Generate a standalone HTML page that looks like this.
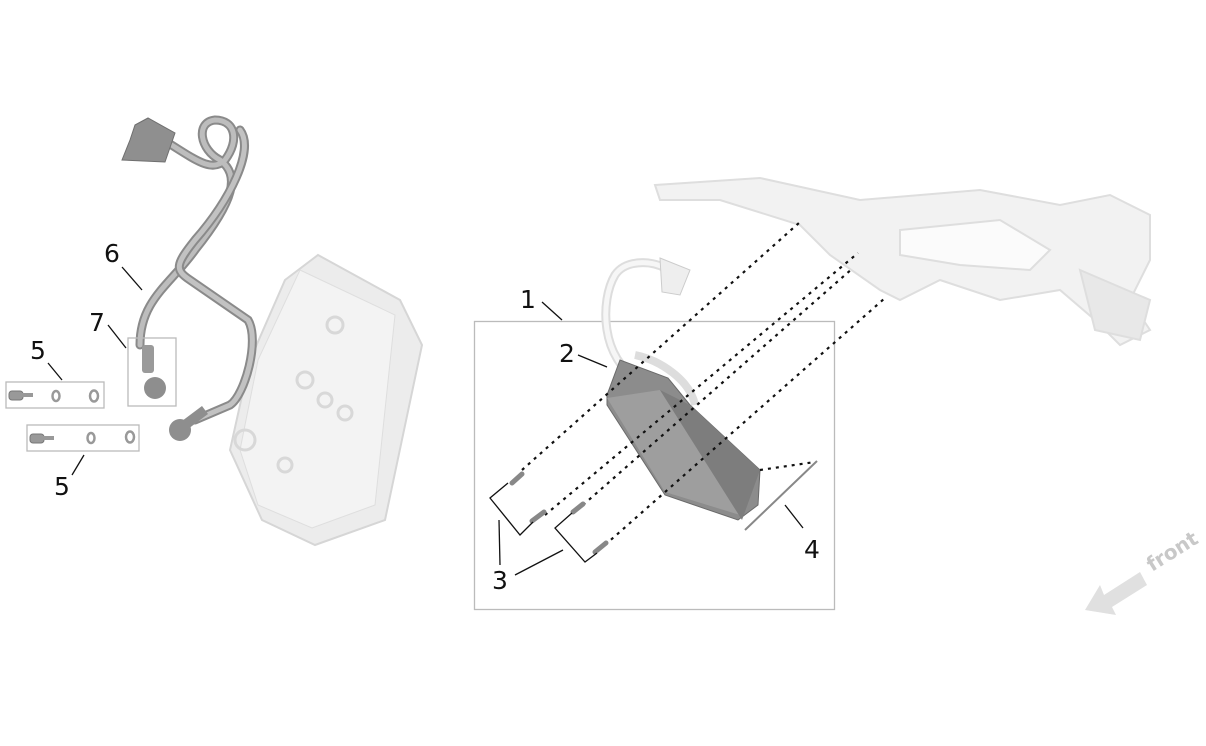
<!DOCTYPE html>
<html><head><meta charset="utf-8"><style>
html,body{margin:0;padding:0;background:#fff;width:1206px;height:746px;overflow:hidden}
svg text{font-family:"DejaVu Sans","Liberation Sans",sans-serif;font-size:25px;fill:#111}
</style></head><body>
<svg width="1206" height="746" viewBox="0 0 1206 746" xmlns="http://www.w3.org/2000/svg">
<!-- frame (faint) -->
<g fill="#f2f2f2" stroke="#dedede" stroke-width="2">
<path d="M655,185 L760,178 L860,200 L980,190 L1060,205 L1110,195 L1150,215 L1150,260 L1130,300 L1150,330 L1120,345 L1095,320 L1060,290 L1000,300 L940,280 L900,300 L880,290 L830,255 L800,225 L720,200 L660,200 Z"/>
<path d="M900,230 L1000,220 L1050,250 L1030,270 L960,265 L900,255 Z" fill="#fbfbfb"/>
<path d="M1080,270 L1150,300 L1140,340 L1095,330 Z" fill="#e8e8e8"/>
</g>
<!-- left controller -->
<path d="M318,255 L400,300 L422,345 L385,520 L315,545 L262,520 L230,450 L250,360 L285,280 Z" fill="#ececec" stroke="#d6d6d6" stroke-width="2"/>
<path d="M300,270 L395,315 L375,505 L312,528 L258,505 L240,450 L258,360 Z" fill="#f3f3f3" stroke="#dedede"/>
<g fill="none" stroke="#d8d8d8" stroke-width="3">
<circle cx="305" cy="380" r="8"/><circle cx="325" cy="400" r="7"/><circle cx="345" cy="413" r="7"/><circle cx="335" cy="325" r="8"/><circle cx="245" cy="440" r="10"/><circle cx="285" cy="465" r="7"/>
</g>
<!-- harness left -->
<g fill="none" stroke-linecap="round">
<path d="M155,135 C190,155 210,175 225,160 C240,140 235,120 215,120 C195,122 200,150 220,160 C240,175 235,200 195,250 C170,285 140,300 140,345" stroke="#8a8a8a" stroke-width="9"/>
<path d="M155,135 C190,155 210,175 225,160 C240,140 235,120 215,120 C195,122 200,150 220,160 C240,175 235,200 195,250 C170,285 140,300 140,345" stroke="#bdbdbd" stroke-width="5"/>
<path d="M240,130 C255,150 230,200 195,240 C175,265 175,270 190,280 L248,320 C260,340 245,395 230,405 L195,420" stroke="#8a8a8a" stroke-width="9"/>
<path d="M240,130 C255,150 230,200 195,240 C175,265 175,270 190,280 L248,320 C260,340 245,395 230,405 L195,420" stroke="#c2c2c2" stroke-width="5"/>
</g>
<path d="M135,125 L148,118 L175,133 L165,162 L122,160 L130,140 Z" fill="#8f8f8f" stroke="#6f6f6f"/>
<rect x="142" y="345" width="12" height="28" fill="#9a9a9a" rx="3"/>
<circle cx="155" cy="388" r="11" fill="#8e8e8e"/>
<circle cx="180" cy="430" r="11" fill="#8e8e8e"/>
<path d="M185,425 L205,410" stroke="#8e8e8e" stroke-width="10"/>
<!-- small boxes -->
<g fill="none" stroke="#bbb" stroke-width="1.3">
<rect x="6" y="382" width="98" height="26"/>
<rect x="27" y="425" width="112" height="26"/>
<rect x="128" y="338" width="48" height="68"/>
<rect x="474.5" y="321.5" width="360" height="288"/>
</g>
<g fill="#999" stroke="#777"><rect x="9" y="391" width="14" height="9" rx="3"/><rect x="30" y="434" width="14" height="9" rx="3"/></g>
<g fill="none" stroke="#999" stroke-width="2.5"><ellipse cx="56" cy="396" rx="3.5" ry="5"/><ellipse cx="94" cy="396" rx="4" ry="5.5"/><ellipse cx="91" cy="438" rx="3.5" ry="5"/><ellipse cx="130" cy="437" rx="4" ry="5.5"/></g>
<path d="M22,395 H33 M43,438 H54" stroke="#999" stroke-width="4"/>
<!-- right harness -->
<path d="M640,380 C600,360 600,300 615,275 C625,260 650,260 665,268" fill="none" stroke="#ddd" stroke-width="9"/>
<path d="M640,380 C600,360 600,300 615,275 C625,260 650,260 665,268" fill="none" stroke="#f6f6f6" stroke-width="5"/>
<path d="M660,258 L690,270 L680,295 L662,292 Z" fill="#eee" stroke="#ccc"/>
<path d="M635,355 C660,360 690,380 695,405" fill="none" stroke="#ddd" stroke-width="8"/>
<!-- right controller -->
<path d="M607,395 L620,360 L668,378 L690,405 L760,470 L758,505 L738,520 L665,495 L607,405 Z" fill="#8c8c8c" stroke="#6a6a6a"/>
<path d="M607,398 L660,390 L740,515 L665,492 Z" fill="#9e9e9e"/>
<path d="M660,390 L690,405 L760,470 L742,520 Z" fill="#7d7d7d"/>
<!-- dotted lines -->
<g stroke="#111" stroke-width="2.2" stroke-dasharray="3,5" fill="none">
<path d="M522,470 L800,222"/><path d="M545,515 L858,253"/><path d="M583,505 L853,268"/><path d="M605,545 L885,298"/><path d="M760,470 L815,462"/>
</g>
<!-- screws -->
<g stroke="#888" stroke-width="5" stroke-linecap="round"><path d="M512,483 L522,474"/><path d="M532,521 L544,512"/><path d="M573,512 L583,504"/><path d="M595,552 L606,543"/></g>
<path d="M745,530 L817,461" stroke="#888" stroke-width="2"/>
<!-- leaders -->
<g stroke="#111" stroke-width="1.3" fill="none">
<path d="M508,483 L490,498 L520,535 L533,522"/><path d="M572,513 L555,528 L585,562 L597,553"/>
<path d="M499,520 L500,565"/><path d="M563,550 L515,575"/>
<path d="M542,302 L562,320"/><path d="M578,355 L607,367"/><path d="M785,505 L803,528"/>
<path d="M122,267 L142,290"/><path d="M108,325 L126,348"/><path d="M48,363 L62,380"/><path d="M84,455 L72,475"/>
</g>
<text x="520" y="308">1</text><text x="559" y="362">2</text><text x="492" y="589">3</text><text x="804" y="558">4</text>
<text x="104" y="262">6</text><text x="89" y="331">7</text><text x="30" y="359">5</text><text x="54" y="495">5</text>
<!-- front arrow -->
<path d="M1085,610 L1100,585 L1104,595 L1140,572 L1147,585 L1112,607 L1116,615 Z" fill="#e0e0e0"/>
<text x="1152" y="572" transform="rotate(-32 1152 572)" style="font-size:20px;fill:#c8c8c8;font-weight:bold">front</text>
</svg>
</body></html>
